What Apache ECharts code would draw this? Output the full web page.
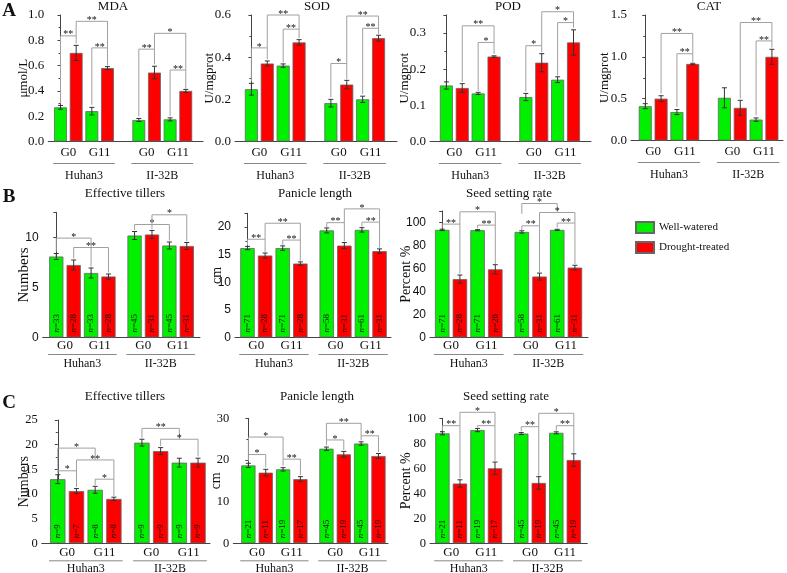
<!DOCTYPE html>
<html><head><meta charset="utf-8">
<script src="https://cdn.jsdelivr.net/npm/echarts/dist/echarts.min.js"></script>
<style>html,body{margin:0;padding:0;background:#fff}#c{width:787px;height:573px}</style>
</head><body><div id="c"></div>
<script>
const seriesNames = ['Well-watered', 'Drought-treated'];
const groupNames = ['Huhan3', 'II-32B'];
const genNames = ['G0', 'G11'];
// order: Huhan3 G0 WW, Huhan3 G0 DT, Huhan3 G11 WW, Huhan3 G11 DT, II-32B G0 WW, II-32B G0 DT, II-32B G11 WW, II-32B G11 DT
// brackets: [from, to, top, left leg end, right leg end, mark]
const mdaValues = [0.27, 0.70, 0.24, 0.58, 0.17, 0.545, 0.175, 0.40];
const mdaErrors = [0.015, 0.06, 0.03, 0.012, 0.012, 0.05, 0.012, 0.012];
const mdaBrackets = [[0,1,0.835,0.30,0.775,'**'],[1,3,0.95,0.835,0.74,'**'],[2,3,0.74,0.29,0.60,'**'],[4,5,0.73,0.20,0.61,'**'],[5,7,0.855,0.73,0.565,'*'],[6,7,0.565,0.20,0.42,'**']];

const sodValues = [0.248, 0.37, 0.36, 0.47, 0.182, 0.27, 0.20, 0.49];
const sodErrors = [0.028, 0.012, 0.008, 0.013, 0.018, 0.02, 0.015, 0.014];
const sodBrackets = [[0,1,0.444,0.285,0.39,'*'],[1,3,0.6,0.444,0.533,'**'],[2,3,0.533,0.375,0.49,'**'],[4,5,0.37,0.21,0.295,'*'],[5,7,0.595,0.37,0.537,'**'],[6,7,0.537,0.225,0.51,'**']];

const podValues = [0.155, 0.148, 0.133, 0.235, 0.123, 0.218, 0.171, 0.274];
const podErrors = [0.01, 0.012, 0.003, 0.002, 0.01, 0.025, 0.008, 0.035];
const podBrackets = [[1,3,0.32,0.165,0.274,'**'],[2,3,0.274,0.14,0.242,'*'],[4,5,0.265,0.138,0.247,'*'],[5,7,0.359,0.265,0.329,'*'],[6,7,0.329,0.182,0.315,'*']];

const catValues = [0.41, 0.50, 0.34, 0.915, 0.51, 0.39, 0.25, 1.0];
const catErrors = [0.03, 0.035, 0.03, 0.008, 0.12, 0.09, 0.02, 0.09];
const catBrackets = [[1,3,1.28,0.56,1.037,'**'],[2,3,1.037,0.40,0.94,'**'],[5,7,1.41,0.50,1.19,'**'],[6,7,1.19,0.3,1.11,'**']];

const bTillerValues = [8.1, 7.25, 6.45, 6.1, 10.2, 10.3, 9.2, 9.15];
const bTillerErrors = [0.3, 0.5, 0.5, 0.25, 0.4, 0.4, 0.35, 0.35];
const bTillerN = [33, 28, 33, 28, 45, 31, 45, 31];
const bTillerBrackets = [[0,2,9.94,8.6,7.1,'*'],[1,3,9.0,7.9,6.5,'**'],[4,6,11.3,10.75,9.7,'*'],[5,7,12.27,10.8,9.6,'*']];

const bPanicleValues = [16.2, 14.85, 16.2, 13.4, 19.4, 16.65, 19.5, 15.65];
const bPanicleErrors = [0.3, 0.45, 0.4, 0.3, 0.45, 0.55, 0.4, 0.4];
const bPanicleN = [71, 28, 71, 28, 58, 31, 61, 31];
const bPanicleBrackets = [[0,1,17.8,16.7,15.5,'**'],[1,3,20.7,17.8,17.65,'**'],[2,3,17.65,16.8,13.9,'**'],[4,5,20.8,20.0,17.4,'**'],[5,7,23.3,20.8,20.9,'*'],[6,7,20.9,20.1,16.3,'**']];

const bSeedValues = [93.6, 50.8, 93.3, 59.3, 91.8, 53, 93.6, 60.8];
const bSeedErrors = [0.6, 3.5, 0.5, 4, 1.0, 3, 0.5, 2];
const bSeedN = [71, 28, 71, 28, 58, 31, 61, 31];
const bSeedBrackets = [[0,1,98.6,95,55.5,'**'],[1,3,109.3,98.6,97.7,'*'],[2,3,97.7,95,64,'**'],[4,5,97.1,93.5,57,'**'],[4,6,116.5,107.5,108.7,'*'],[5,7,108.7,97.1,99.5,'*'],[6,7,99.5,95.5,64,'**']];

const cTillerValues = [13.0, 10.6, 10.85, 9.0, 20.4, 18.7, 16.35, 16.35];
const cTillerErrors = [0.9, 0.5, 0.7, 0.35, 0.7, 0.7, 0.9, 0.9];
const cTillerN = [9, 7, 8, 8, 9, 9, 9, 9];
const cTillerBrackets = [[0,2,19.3,14.7,16.9,'*'],[0,1,14.7,14.2,11.4,'*'],[1,3,16.9,14.7,13.0,'**'],[2,3,13.0,11.8,9.6,'*'],[4,6,23.3,21.4,21.1,'**'],[5,7,21.1,19.7,17.6,'*']];

const cPanicleValues = [18.7, 16.95, 17.75, 15.4, 22.7, 21.35, 23.95, 20.95];
const cPanicleErrors = [0.5, 0.8, 0.4, 0.6, 0.4, 0.7, 0.4, 0.6];
const cPanicleN = [21, 11, 19, 17, 45, 19, 45, 19];
const cPanicleBrackets = [[0,2,25.5,21.3,20.2,'*'],[0,1,21.3,19.7,18.2,'*'],[2,3,20.2,18.6,16.4,'**'],[4,5,24.8,23.5,22.4,'*'],[4,6,28.8,24.8,25.8,'**'],[6,7,25.8,24.7,21.9,'**']];

const cSeedValues = [88, 47.8, 90.6, 60, 87.8, 48.3, 88.4, 66.6];
const cSeedErrors = [1.2, 3, 1.3, 5, 0.8, 5, 0.8, 5];
const cSeedN = [21, 11, 19, 17, 45, 19, 45, 19];
const cSeedBrackets = [[0,1,94.1,90,52,'**'],[1,3,104.8,94.1,94.1,'*'],[2,3,94.1,92.8,66,'**'],[4,5,93.3,89.5,54,'**'],[5,7,104,93.3,94.1,'*'],[6,7,94.1,90,72.5,'**']];

// ---------- layout / style ----------
const SERIF = "'Liberation Serif', 'Times New Roman', serif";
const SANS = "'Liberation Sans', Arial, sans-serif";
const GREEN = '#00f000', RED = '#ff0000';
const slotA = [0, 1, 2, 3, 5, 6, 7, 8];
const slotBC = [0, 1, 2, 3, 4.5, 5.5, 6.5, 7.5];

const panels = [
  {title:'MDA', yName:'μmol/L', values:mdaValues, errors:mdaErrors, n:null, brackets:mdaBrackets,
   box:[48.3,15,203,141.5], xr:[-0.78,9.1], yMax:1.0, interval:0.2, dec:1, slots:slotA,
   nameGap:18.5, nameSize:13, tickFont:SERIF, tickSize:13, titleAt:[113,7], lab:[11,22,34]},
  {title:'SOD', yName:'U/mgprot', values:sodValues, errors:sodErrors, n:null, brackets:sodBrackets,
   box:[235,15,397,141.5], xr:[-1.03,9.16], yMax:0.6, interval:0.2, dec:1, slots:slotA,
   nameGap:18.5, nameSize:13, tickFont:SERIF, tickSize:13, titleAt:[317,7], lab:[11,22,34]},
  {title:'POD', yName:'U/mgprot', values:podValues, errors:podErrors, n:null, brackets:podBrackets,
   box:[430,15,591,141.5], xr:[-1.03,9.1], yMax:0.35, interval:0.1, dec:1, slots:slotA,
   nameGap:18.5, nameSize:13, tickFont:SERIF, tickSize:13, titleAt:[508,7], lab:[11,22,34]},
  {title:'CAT', yName:'U/mgprot', values:catValues, errors:catErrors, n:null, brackets:catBrackets,
   box:[631,15,783,140.5], xr:[-0.9,8.7], yMax:1.5, interval:0.5, dec:1, slots:slotA,
   nameGap:19.5, nameSize:13, tickFont:SERIF, tickSize:13, titleAt:[709,7], lab:[11,22,34]},
  {title:'Effective tillers', yName:'Numbers', values:bTillerValues, errors:bTillerErrors, n:bTillerN, brackets:bTillerBrackets,
   box:[42.7,212.5,200,337.5], xr:[-0.78,8.26], yMax:12.5, interval:5, dec:0, slots:slotBC,
   nameGap:11.5, nameSize:15, tickFont:SANS, tickSize:12, titleAt:[125,194], lab:[8.5,17,26.5]},
  {title:'Panicle length', yName:'cm', values:bPanicleValues, errors:bPanicleErrors, n:bPanicleN, brackets:bPanicleBrackets,
   box:[235,213.3,391,337.5], xr:[-0.71,8.15], yMax:22.5, interval:5, dec:0, slots:slotBC,
   nameGap:11, nameSize:14, tickFont:SANS, tickSize:12, titleAt:[315,194], lab:[8.5,17,26.5]},
  {title:'Seed setting rate', yName:'Percent %', values:bSeedValues, errors:bSeedErrors, n:bSeedN, brackets:bSeedBrackets,
   box:[430,211,588,337.5], xr:[-0.69,8.24], yMax:110, interval:20, dec:0, slots:slotBC,
   nameGap:17, nameSize:14, tickFont:SANS, tickSize:12, titleAt:[509,194], lab:[8.5,17,26.5]},
  {title:'Effective tillers', yName:'Numbers', values:cTillerValues, errors:cTillerErrors, n:cTillerN, brackets:cTillerBrackets,
   box:[41.7,420,210,543.3], xr:[-0.86,8.14], yMax:25, interval:5, dec:0, slots:slotBC,
   nameGap:10, nameSize:14, tickFont:SERIF, tickSize:12.5, titleAt:[125,397], lab:[9,17.5,25.5]},
  {title:'Panicle length', yName:'cm', values:cPanicleValues, errors:cPanicleErrors, n:cPanicleN, brackets:cPanicleBrackets,
   box:[233.3,418.3,388,543.3], xr:[-0.87,8.05], yMax:30, interval:10, dec:0, slots:slotBC,
   nameGap:9.5, nameSize:14, tickFont:SERIF, tickSize:12.5, titleAt:[317,397], lab:[9,17.5,25.5]},
  {title:'Seed setting rate', yName:'Percent %', values:cSeedValues, errors:cSeedErrors, n:cSeedN, brackets:cSeedBrackets,
   box:[430,418.3,587.3,543.3], xr:[-0.71,8.27], yMax:100, interval:20, dec:0, slots:slotBC,
   nameGap:17, nameSize:14, tickFont:SERIF, tickSize:12.5, titleAt:[506,397], lab:[9,17.5,25.5]}
];

function annotate(p) {
  return function (params, api) {
    const kids = [];
    const seg = (a, b, color, w) => ({type:'line', silent:true, shape:{x1:a[0], y1:a[1], x2:b[0], y2:b[1]}, style:{stroke:color, lineWidth:w}});
    const txt = (x, y, s, size, extra) => ({type:'text', silent:true, x:x, y:y, style:Object.assign({text:s, align:'center', verticalAlign:'middle', fontSize:size, fontFamily:SERIF, fill:'#111'}, extra || {})});
    p.values.forEach((v, k) => {
      const e = p.errors[k], x = p.slots[k];
      const lo = api.coord([x, v - e]), hi = api.coord([x, v + e]);
      kids.push(seg(lo, hi, '#333', 1));
      kids.push(seg([hi[0] - 2.5, hi[1]], [hi[0] + 2.5, hi[1]], '#333', 1));
      kids.push(seg([lo[0] - 2.5, lo[1]], [lo[0] + 2.5, lo[1]], '#333', 1));
    });
    p.brackets.forEach(b => {
      const [i, j, top, lb, rb, mark] = b;
      const pts = [api.coord([p.slots[i], lb]), api.coord([p.slots[i], top]), api.coord([p.slots[j], top]), api.coord([p.slots[j], rb])];
      kids.push({type:'polyline', silent:true, shape:{points:pts}, style:{stroke:'#a0a0a0', lineWidth:1, fill:null}});
      kids.push(txt((pts[1][0] + pts[2][0]) / 2, pts[1][1] - 1, mark, 10));
    });
    const y0 = api.coord([0, 0])[1];
    for (let g = 0; g < 2; g++) {
      for (let h = 0; h < 2; h++) {
        const cx = api.coord([(p.slots[g * 4 + h * 2] + p.slots[g * 4 + h * 2 + 1]) / 2, 0])[0];
        kids.push(txt(cx, y0 + p.lab[0], genNames[h], 13));
      }
      const a = api.coord([p.slots[g * 4] - 0.47, 0]);
      const c = api.coord([p.slots[g * 4 + 3] + 0.47, 0]);
      kids.push(seg([a[0], y0 + p.lab[1]], [c[0], y0 + p.lab[1]], '#888', 1));
      kids.push(txt((a[0] + c[0]) / 2, y0 + p.lab[2], groupNames[g], 12));
    }
    return {type:'group', children:kids};
  };
}

const grid = [], xAxis = [], yAxis = [], series = [], graphic = [];
panels.forEach((p, gi) => {
  const [L, T, R, B] = p.box;
  grid.push({left:L, top:T, width:R - L, height:B - T, containLabel:false, outerBoundsMode:'none'});
  xAxis.push({gridIndex:gi, type:'value', min:p.xr[0], max:p.xr[1],
    axisLine:{show:true, onZero:false, lineStyle:{color:'#444', width:1}},
    axisTick:{show:false}, axisLabel:{show:false}, splitLine:{show:false}});
  const ratio = p.yMax / p.interval;
  const whole = Math.abs(ratio - Math.round(ratio)) < 1e-6;
  yAxis.push({gridIndex:gi, type:'value', min:0, max:p.yMax, interval:p.interval,
    axisLine:{show:true, lineStyle:{color:'#444', width:1}},
    axisTick:{show:true, inside:false, length:3, lineStyle:{color:'#444'}},
    minorTick:{show:true, splitNumber:2, length:2, lineStyle:{color:'#444'}},
    splitLine:{show:false}, minorSplitLine:{show:false},
    axisLabel:{fontFamily:p.tickFont, fontSize:p.tickSize, color:'#111', margin:4, showMaxLabel:whole,
      formatter: v => v.toFixed(p.dec)},
    name:p.yName, nameLocation:'middle', nameGap:p.nameGap, nameMoveOverlap:false,
    nameTextStyle:{fontFamily:SERIF, fontSize:p.nameSize, color:'#111'}});
  const sp = (R - L) / (p.xr[1] - p.xr[0]);
  const bw = sp * 0.82;
  [0, 1].forEach(s => {
    const idx = [0, 2, 4, 6].map(k => k + s);
    series.push({type:'bar', name:seriesNames[s], xAxisIndex:gi, yAxisIndex:gi,
      barWidth:bw, barGap:'-100%', silent:true,
      data: idx.map(k => [p.slots[k], p.values[k]]),
      itemStyle:{color: s === 0 ? GREEN : RED, borderColor:'#666', borderWidth:0.8},
      label: p.n ? {show:true, position:'insideBottom', rotate:90, align:'left', verticalAlign:'middle', distance:5,
        color:'#111', textBorderWidth:0, textShadowBlur:0,
        formatter: prm => '{i|n}{t|=' + p.n[idx[prm.dataIndex]] + '}',
        rich:{i:{fontStyle:'italic', fontFamily:SERIF, fontSize:9, color:'#111', textBorderWidth:0},
              t:{fontFamily:SERIF, fontSize:9, color:'#111', textBorderWidth:0}}} : {show:false}
    });
  });
  series.push({type:'custom', xAxisIndex:gi, yAxisIndex:gi, data:[[0, 0]], encode:{x:0, y:1}, clip:false, silent:true, z:5,
    renderItem: annotate(p)});
  graphic.push({type:'text', x:p.titleAt[0], y:p.titleAt[1], silent:true,
    style:{text:p.title, align:'center', verticalAlign:'middle', fontFamily:SERIF, fontSize:13, fill:'#111'}});
});
[['A', 9, 11], ['B', 9, 197], ['C', 9, 403]].forEach(([t, x, y]) => {
  graphic.push({type:'text', x:x, y:y, silent:true,
    style:{text:t, align:'center', verticalAlign:'middle', fontFamily:SERIF, fontSize:19, fontWeight:'bold', fill:'#111'}});
});

const chart = echarts.init(document.getElementById('c'), null, {renderer:'canvas'});
chart.setOption({
  animation:false,
  backgroundColor:'#fff',
  grid, xAxis, yAxis, series, graphic,
  legend:{show:true, data:seriesNames, orient:'vertical', left:635, top:221, itemWidth:18, itemHeight:11, itemGap:7,
    icon:'rect', selectedMode:false, padding:0,
    textStyle:{fontFamily:SERIF, fontSize:11, color:'#111'}}
});
</script></body></html>
